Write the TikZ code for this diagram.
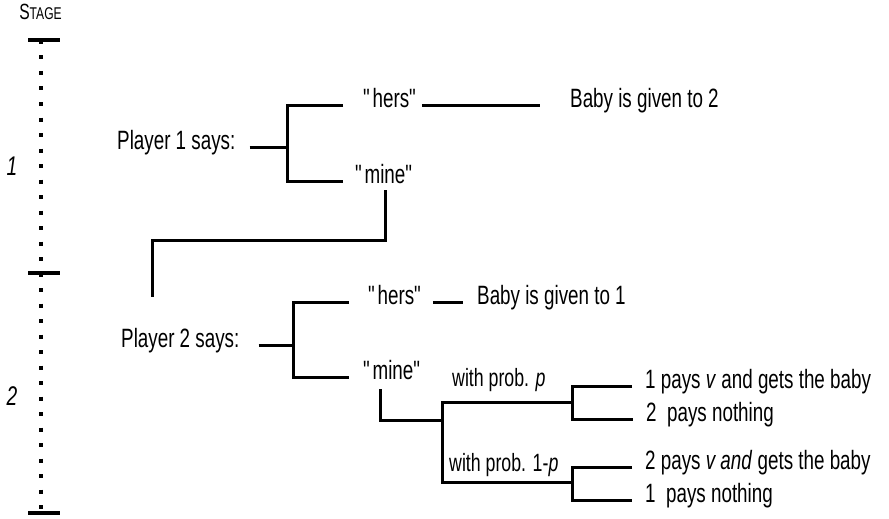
\documentclass[tikz,border=0pt]{standalone}
\usepackage{fontspec}
\setmainfont{Liberation Sans}[FakeStretch=0.71]
\usepackage{tikz}
\usetikzlibrary{calc}
\tikzset{
	says/.style={anchor=west, inner sep=0pt, text height=0.45em, text depth=0pt, font=\fontsize{26.5}{30}\selectfont},
	prob/.style={says, font=\fontsize{25}{28}\selectfont},
	branch/.style={line width=3pt},
	stagebar/.style={line width=4pt, dash pattern=on 4pt off 11.5pt},
	stagetick/.style={line width=4.5pt},
	stagenum/.style={font=\fontsize{27}{30}\selectfont\itshape},
}
\newcommand{\said}[1]{\textquotedbl#1\textquotedbl}

\begin{document}
\begin{tikzpicture}[x=1pt, y=-1pt]
		\useasboundingbox (0,0) rectangle (889,519);

		% stage axis
		\coordinate (s0) at (41,40);
		\coordinate (s1) at (41,273);
		\coordinate (s2) at (41,513);
		\draw[stagebar] (s0) -- (s2);
		\foreach \s in {s0,s1,s2}
		\draw[stagetick] ($(\s)+(-13,0)$) -- ($(\s)+(19,0)$);
		\node[font=\fontsize{22}{24}\selectfont, inner sep=0pt] (stage) at (40.5,12) {S{\fontsize{17}{18}\selectfont TAGE}};
		\node[stagenum] (st1) at (12,166) {1};
		\node[stagenum] (st2) at (12,396) {2};

		% stage 1
		\node[says] (p1) at (117,147) {Player 1 says:};
		\node[says] (h1) at (363,105) {\said{hers}};
		\node[says] (m1) at (355,181) {\said{mine}};
		\node[says] (b2) at (570,105) {Baby is given to 2};
		\coordinate (k1) at (287,147);
		\coordinate (j1) at (152,297);

		\draw[branch] ([xshift=14]p1.east) -- (k1);
		\draw[branch] ([xshift=-20]h1.west) -| (k1) |- ([xshift=-12]m1.west);
		\draw[branch] ([xshift=3]h1.east) -- ([xshift=-30]b2.west);
		\draw[branch] ([yshift=-7]m1.south) -- ++(0,50) -| (j1);

		% stage 2
		\node[says] (p2) at (121,345) {Player 2 says:};
		\node[says] (h2) at (368,302) {\said{hers}};
		\node[says] (m2) at (363,377) {\said{mine}};
		\node[says] (b1) at (477,302) {Baby is given to 1};
		\coordinate (k2) at (293,345);

		\draw[branch] ([xshift=19]p2.east) -- (k2);
		\draw[branch] ([xshift=-19]h2.west) -| (k2) |- ([xshift=-14]m2.west);
		\draw[branch] ([xshift=9]h2.east) -- ([xshift=-14]b1.west);

		\node[prob] (wp) at (452,384) {with prob. \textit{p}};
		\node[prob] (wq) at (449,469) {with prob. 1-\textit{p}};
		\coordinate (k3) at (442,420);
		\coordinate (k4) at (572,402);
		\coordinate (k5) at (572,482);

		\draw[branch] ([xshift=-13,yshift=-10]m2.south) |- (k3);
		\draw[branch] (k4) -| (k3) |- (k5);

		\node[says] (o1) at (645,386) {1 pays \textit{v} and gets the baby};
		\node[says] (o2) at (646,419) {2~~pays nothing};
		\node[says] (o3) at (645,467) {2 pays \textit{v and} gets the baby};
		\node[says] (o4) at (645,500) {1~~pays nothing};

		\draw[branch] ([xshift=-13]o1.west) -| (k4) |- ([xshift=-13]o2.west);
		\draw[branch] ([xshift=-13]o3.west) -| (k5) |- ([xshift=-13]o4.west);
	\end{tikzpicture}
\end{document}
